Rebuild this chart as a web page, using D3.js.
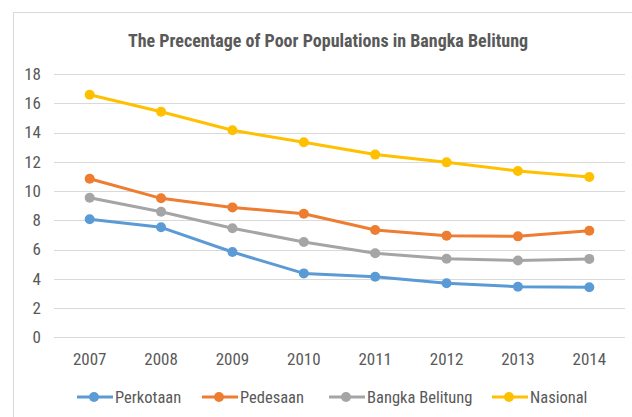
<!DOCTYPE html>
<html>
<head>
<meta charset="utf-8">
<script src="https://cdn.jsdelivr.net/npm/d3@7"></script>
<style>
  body { margin: 0; background: #fff; }
  svg { display: block; }
  text { font-family: "Liberation Sans Narrow", "Roboto Condensed", "DejaVu Sans Condensed", sans-serif; }
</style>
</head>
<body>
<svg id="chart"></svg>
<script>
// chart values
var years = ["2007", "2008", "2009", "2010", "2011", "2012", "2013", "2014"]
var perkotaan = [8.07, 7.52, 5.83, 4.37, 4.14, 3.69, 3.46, 3.42]
var pedesaan = [10.84, 9.50, 8.88, 8.45, 7.33, 6.95, 6.90, 7.29]
var bangkaBelitung = [9.54, 8.58, 7.46, 6.51, 5.75, 5.37, 5.25, 5.36]
var nasional = [16.58, 15.42, 14.15, 13.33, 12.49, 11.96, 11.37, 10.96]
var yTicks = [0, 2, 4, 6, 8, 10, 12, 14, 16, 18]
var title = "The Precentage of Poor Populations in Bangka Belitung"

var series = [
  {name: "Perkotaan", values: perkotaan, color: "#5B9BD5"},
  {name: "Pedesaan", values: pedesaan, color: "#ED7D31"},
  {name: "Bangka Belitung", values: bangkaBelitung, color: "#A5A5A5"},
  {name: "Nasional", values: nasional, color: "#FFC000"}
]

var width = 632, height = 417
var svg = d3.select("#chart").attr("width", width).attr("height", height)

// outer frame (runs off the right and bottom)
svg.append("rect")
  .attr("x", 13.5).attr("y", 12.5)
  .attr("width", 700).attr("height", 500)
  .attr("fill", "#fff").attr("stroke", "#d9d9d9")

var x = d3.scaleBand().domain(years).range([54, 625])
var y = d3.scaleLinear().domain([0, 18]).range([337.3, 74])

// title
svg.append("text")
  .attr("x", 328).attr("y", 47)
  .attr("text-anchor", "middle")
  .attr("font-size", 18).attr("font-weight", "bold")
  .attr("fill", "#595959")
  .text(title)

// gridlines
svg.append("g").selectAll("line")
  .data(yTicks)
  .enter().append("line")
  .attr("x1", 54).attr("x2", 625)
  .attr("y1", function(d){ return Math.round(y(d)) + 0.5 })
  .attr("y2", function(d){ return Math.round(y(d)) + 0.5 })
  .attr("stroke", "#d9d9d9")

// y axis
var yAxis = svg.append("g")
  .attr("transform", "translate(41,0)")
  .call(d3.axisLeft(y).tickValues(yTicks).tickSize(0).tickPadding(0))
yAxis.select(".domain").remove()
yAxis.selectAll("text").attr("font-size", 17).attr("fill", "#595959")
  .attr("font-family", null)

// x axis
var xAxis = svg.append("g")
  .attr("transform", "translate(0,353)")
  .call(d3.axisBottom(x).tickSize(0).tickPadding(0))
xAxis.select(".domain").remove()
xAxis.selectAll("text").attr("font-size", 17).attr("fill", "#595959")
  .attr("font-family", null)

var line = d3.line()
  .x(function(d, i){ return x(years[i]) + x.bandwidth() / 2 })
  .y(function(d){ return y(d) })

var groups = svg.append("g").selectAll("g")
  .data(series)
  .enter().append("g")

groups.append("path")
  .attr("d", function(d){ return line(d.values) })
  .attr("fill", "none")
  .attr("stroke", function(d){ return d.color })
  .attr("stroke-width", 3)
  .attr("stroke-linejoin", "round")
  .attr("stroke-linecap", "round")

groups.selectAll("circle")
  .data(function(d){ return d.values.map(function(v){ return {v: v, color: d.color} }) })
  .enter().append("circle")
  .attr("cx", function(d, i){ return x(years[i]) + x.bandwidth() / 2 })
  .attr("cy", function(d){ return y(d.v) })
  .attr("r", 5)
  .attr("fill", function(d){ return d.color })

// legend
var legendX = [77, 202, 329, 492]
var legend = svg.append("g").selectAll("g")
  .data(series)
  .enter().append("g")
  .attr("transform", function(d, i){ return "translate(" + legendX[i] + ",397)" })

legend.append("line")
  .attr("x1", 0).attr("x2", 36)
  .attr("stroke", function(d){ return d.color })
  .attr("stroke-width", 3)
legend.append("circle")
  .attr("cx", 17).attr("r", 5)
  .attr("fill", function(d){ return d.color })
legend.append("text")
  .attr("x", 38).attr("y", 6)
  .attr("font-size", 16.5).attr("fill", "#595959")
  .text(function(d){ return d.name })
</script>
</body>
</html>
